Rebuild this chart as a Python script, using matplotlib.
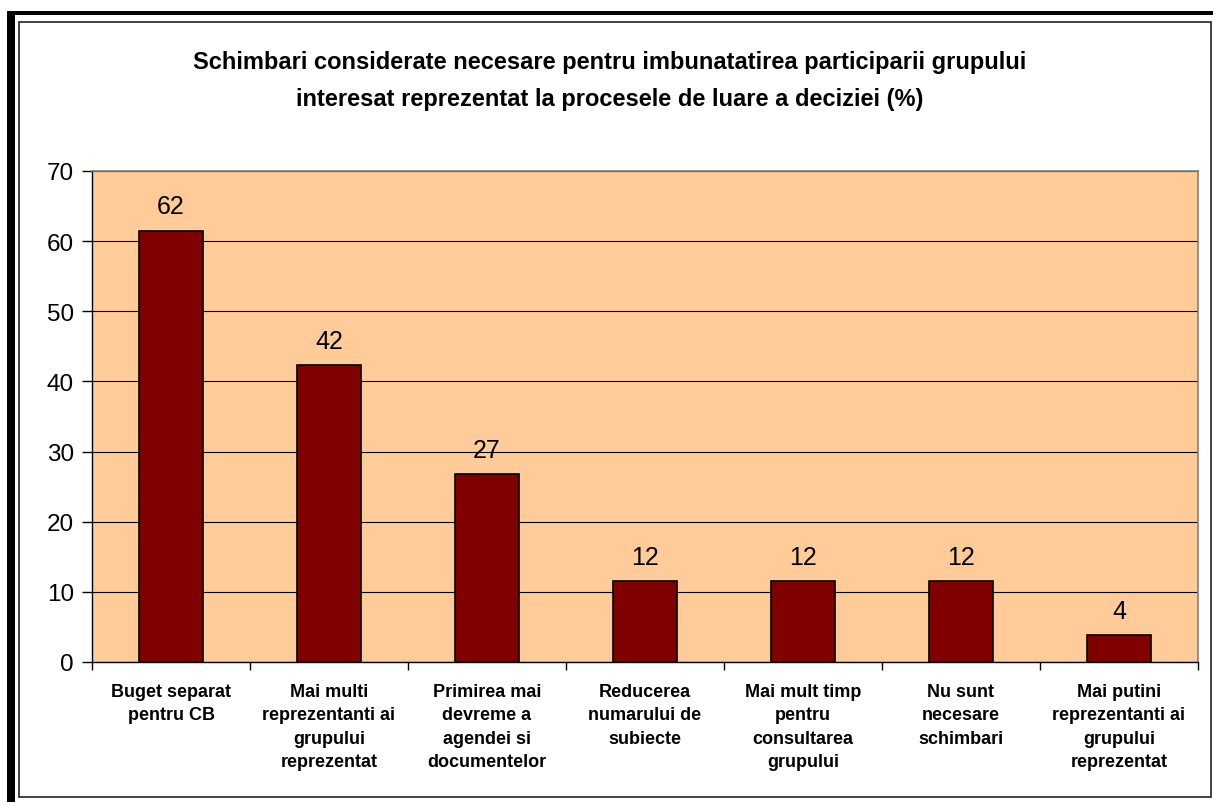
import numpy as np
import matplotlib
matplotlib.use('Agg')
import matplotlib.pyplot as plt
from matplotlib.patches import Rectangle

plt.rcParams['font.family'] = ['Liberation Sans', 'DejaVu Sans']

## data
categories = ['Buget separat\npentru CB',
              'Mai multi\nreprezentanti ai\ngrupului\nreprezentat',
              'Primirea mai\ndevreme a\nagendei si\ndocumentelor',
              'Reducerea\nnumarului de\nsubiecte',
              'Mai mult timp\npentru\nconsultarea\ngrupului',
              'Nu sunt\nnecesare\nschimbari',
              'Mai putini\nreprezentanti ai\ngrupului\nreprezentat']
values = [61.5, 42.3, 26.8, 11.5, 11.5, 11.5, 3.8]
labels = ['62', '42', '27', '12', '12', '12', '4']

title = ('Schimbari considerate necesare pentru imbunatatirea participarii grupului\n'
         'interesat reprezentat la procesele de luare a deciziei (%)')

W, H = 1213, 803
fig = plt.figure(figsize=(W / 100, H / 100), dpi=100)
fig.patch.set_facecolor('white')

# frame around the chart (thick black offset + thin inner line)
fig.patches.append(Rectangle((7 / W, 0), 8 / W, 1 - 12 / H, transform=fig.transFigure,
                             facecolor='black', edgecolor='none', zorder=0))
fig.patches.append(Rectangle((7 / W, 1 - 16 / H), 1, 4 / H, transform=fig.transFigure,
                             facecolor='black', edgecolor='none', zorder=0))
fig.patches.append(Rectangle((19 / W, 1 - 798 / H), (1211 - 19) / W, (798 - 23) / H,
                             transform=fig.transFigure, facecolor='none',
                             edgecolor='#222222', linewidth=1.2, zorder=0))

ax = fig.add_axes([92 / W, 1 - 663 / H, (1198 - 92) / W, (663 - 172) / H])
ax.set_facecolor('#FFCC99')

x = np.arange(len(categories))
bars = ax.bar(x, values, width=0.4, color='#800000', edgecolor='black', linewidth=1.2, zorder=3)

for b, lab in zip(bars, labels):
    ax.annotate(lab, (b.get_x() + b.get_width() / 2, b.get_height()),
                xytext=(0, 9), textcoords='offset points', ha='center', va='bottom',
                fontsize=18)

ax.set_ylim(0, 70)
ax.set_xlim(-0.5, len(categories) - 0.5)
ax.set_yticks(np.arange(0, 71, 10))
ax.yaxis.grid(True, color='black', linewidth=0.8, zorder=1)
ax.set_axisbelow(True)

ax.set_xticks(np.arange(-0.5, len(categories), 1.0))
ax.set_xticklabels([])
ax.set_xticks(x, minor=True)
ax.set_xticklabels(categories, minor=True, fontsize=13, fontweight='bold', linespacing=1.5)
ax.tick_params(axis='x', which='minor', length=0, pad=15)
ax.tick_params(axis='x', which='major', length=6, width=1, direction='out')
ax.tick_params(axis='y', length=7, width=1, labelsize=17.5, pad=6)

for side in ['top', 'right']:
    ax.spines[side].set_color('#808080')
    ax.spines[side].set_linewidth(1.2)
for side in ['left', 'bottom']:
    ax.spines[side].set_color('black')
    ax.spines[side].set_linewidth(1)

fig.text(610 / W, 1 - 81 / H, title, ha='center', va='center', fontsize=17,
         fontweight='bold', linespacing=1.75)

plt.savefig('out.png', dpi=100)
